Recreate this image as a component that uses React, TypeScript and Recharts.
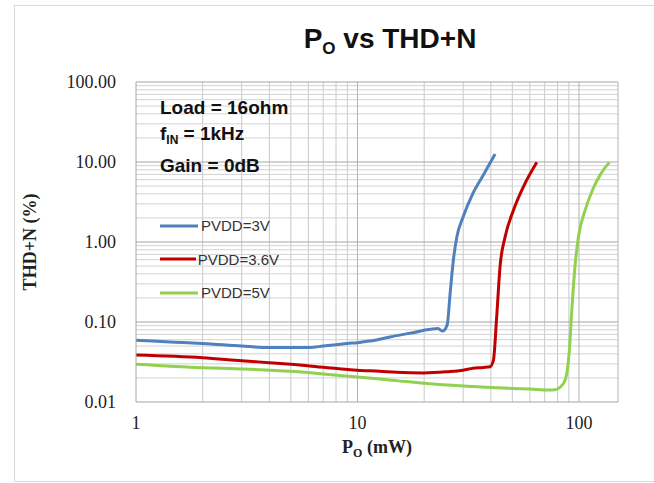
import React from 'react';
import { LineChart, Line, XAxis, YAxis, ReferenceLine, Legend } from 'recharts';

// P_O (mW) and THD+N (%), one pair of arrays per supply voltage
const po3v = [1, 1.5, 2, 3, 4, 5, 6, 7, 8, 9, 10, 11.4, 12.6, 14, 16.1, 18, 20, 23.1, 24.2, 25.4, 26.2, 27.1, 28.1, 30, 33.2, 37, 41.8];
const thd3v = [0.059, 0.056, 0.054, 0.05, 0.048, 0.048, 0.048, 0.05, 0.052, 0.054, 0.055, 0.058, 0.061, 0.065, 0.07, 0.074, 0.079, 0.083, 0.077, 0.092, 0.23, 0.6, 1.16, 2.07, 4.06, 6.9, 12.6];

const po36v = [1, 2, 3, 4, 5, 7, 10, 12.6, 15, 17.3, 20, 25.3, 30, 33.2, 37, 39.7, 41.1, 42.5, 44, 46.4, 50.6, 56.1, 64.5];
const thd36v = [0.0387, 0.0358, 0.0328, 0.031, 0.0296, 0.0272, 0.0249, 0.0242, 0.0235, 0.0232, 0.0231, 0.0239, 0.025, 0.0264, 0.027, 0.0276, 0.0335, 0.116, 0.49, 1.16, 2.5, 4.9, 9.9];

const po5v = [1, 2, 3, 5, 7, 10, 12.6, 15, 20, 30, 40, 50.6, 60, 73.5, 78, 82.2, 86.6, 90.5, 92.8, 95.9, 99.4, 106.6, 116, 125, 137];
const thd5v = [0.0296, 0.0268, 0.0259, 0.0242, 0.0224, 0.0205, 0.0194, 0.0185, 0.0171, 0.0158, 0.0152, 0.0148, 0.0145, 0.0141, 0.0142, 0.0153, 0.0188, 0.045, 0.141, 0.49, 1.16, 2.5, 4.7, 7.0, 9.9];

const seriesNames = ['PVDD=3V', 'PVDD=3.6V', 'PVDD=5V'];
const xTicks = [1, 10, 100];
const yTicks = [0.01, 0.1, 1, 10, 100];
const xMinor = [2, 3, 4, 5, 6, 7, 8, 9, 20, 30, 40, 50, 60, 70, 80, 90];
const yMinor = [0.02, 0.03, 0.04, 0.05, 0.06, 0.07, 0.08, 0.09, 0.2, 0.3, 0.4, 0.5, 0.6, 0.7, 0.8, 0.9, 2, 3, 4, 5, 6, 7, 8, 9, 20, 30, 40, 50, 60, 70, 80, 90];
const notes = ['Load = 16ohm', 'f_IN = 1kHz', 'Gain = 0dB'];

const COLORS = ['#4F81BD', '#C00000', '#92D050'];
const zip = (xs: number[], ys: number[]) => xs.map((p, i) => ({ p, thd: ys[i] }));
const series = [zip(po3v, thd3v), zip(po36v, thd36v), zip(po5v, thd5v)];

const serif = '"Liberation Serif", "Times New Roman", serif';
const sans = '"Liberation Sans", Arial, sans-serif';

const LegendBox = () => (
  <div style={{ fontFamily: sans, fontSize: 15, color: '#333' }}>
    {seriesNames.map((name, i) => (
      <div key={name} style={{ display: 'flex', alignItems: 'center', height: 33.5 }}>
        <svg width={40} height={6}><line x1={1} y1={3} x2={39} y2={3} stroke={COLORS[i]} strokeWidth={3} /></svg>
        <span style={{ marginLeft: 2 }}>{name}</span>
      </div>
    ))}
  </div>
);

const XLabel = (props: any) => {
  const { x, y, width } = props.viewBox;
  return (
    <text x={x + width / 2} y={y + 51} textAnchor="middle" fontFamily={serif} fontWeight="bold" fontSize={18} fill="#222">
      P<tspan fontSize={12} dy={4}>O</tspan><tspan dy={-4}> (mW)</tspan>
    </text>
  );
};

const YLabel = (props: any) => {
  const { y, height } = props.viewBox;
  const cy = y + height / 2;
  return (
    <text x={30} y={cy} transform={`rotate(-90, 30, ${cy})`} textAnchor="middle" dominantBaseline="central"
      fontFamily={serif} fontWeight="bold" fontSize={18} fill="#222">
      THD+N (%)
    </text>
  );
};

export default function App() {
  return (
    <div style={{ position: 'absolute', left: 0, top: 0, width: 654, height: 483, background: '#fff' }}>
      <div style={{ position: 'absolute', left: 14, top: 5, width: 660, height: 475, border: '1px solid #D9D9D9' }} />
      <div style={{ position: 'absolute', left: 290, top: 23, width: 200, textAlign: 'center', fontFamily: sans, fontWeight: 'bold', fontSize: 28, color: '#111' }}>
        P<sub style={{ fontSize: 17, verticalAlign: -6 }}>O</sub> vs THD+N
      </div>
      <LineChart width={654} height={483} margin={{ top: 82, right: 36, bottom: 0, left: 0 }} style={{ position: 'absolute', left: 0, top: 0 }}>
        <XAxis dataKey="p" type="number" scale="log" domain={[1, 150]} ticks={xTicks} allowDataOverflow
          height={81} tickLine={false} axisLine={{ stroke: '#A6A6A6' }} tickMargin={8}
          tick={{ fontFamily: serif, fontSize: 18, fill: '#222' }} label={{ content: <XLabel /> } as any} />
        <YAxis type="number" scale="log" domain={[0.01, 100]} ticks={yTicks} allowDataOverflow
          width={136} tickLine={false} axisLine={{ stroke: '#A6A6A6' }} tickMargin={14}
          tickFormatter={(v: number) => v.toFixed(2)}
          tick={{ fontFamily: serif, fontSize: 18, fill: '#222' }} label={{ content: <YLabel /> } as any} />
        {xMinor.map((v) => <ReferenceLine key={'x' + v} x={v} stroke="#C8C8C8" strokeWidth={1} />)}
        {yMinor.map((v) => <ReferenceLine key={'y' + v} y={v} stroke="#D2D2D2" strokeWidth={1} />)}
        {[10, 100, 150].map((v) => <ReferenceLine key={'X' + v} x={v} stroke="#B4B4B4" strokeWidth={1} />)}
        {[0.1, 1, 10, 100].map((v) => <ReferenceLine key={'Y' + v} y={v} stroke="#A6A6A6" strokeWidth={1.2} />)}
        {series.map((d, i) => (
          <Line key={seriesNames[i]} data={d} dataKey="thd" name={seriesNames[i]} type="monotone"
            stroke={COLORS[i]} strokeWidth={3} dot={false} isAnimationActive={false} />
        ))}
        <Legend layout="vertical" align="center" verticalAlign="middle" content={<LegendBox />}
          wrapperStyle={{ left: 159, top: 209, width: 120 }} />
      </LineChart>
      <div style={{ position: 'absolute', left: 160, top: 95, fontFamily: sans, fontWeight: 'bold', fontSize: 19, color: '#111', lineHeight: '26px' }}>
        <div>{notes[0]}</div>
        <div>f<sub style={{ fontSize: 12, verticalAlign: -4 }}>IN</sub>{notes[1].slice(4)}</div>
        <div>{notes[2]}</div>
      </div>
    </div>
  );
}
